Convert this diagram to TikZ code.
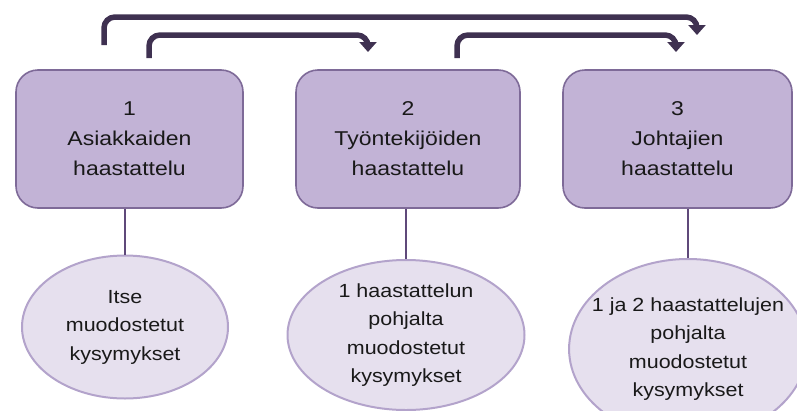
\documentclass[tikz,border=0pt]{standalone}
\usepackage{fontspec}
\setmainfont{Liberation Sans}
\newfontfamily\phasefont[FakeStretch=1.15]{Liberation Sans}
\newfontfamily\questfont[FakeStretch=1.13]{Liberation Sans}
\usetikzlibrary{arrows.meta,shapes.geometric}
\definecolor{boxfill}{HTML}{C2B3D6}
\definecolor{boxline}{HTML}{7E6A98}
\definecolor{ellfill}{HTML}{E6E0EE}
\definecolor{ellline}{HTML}{B3A3CB}
\definecolor{stem}{HTML}{5F497A}
\definecolor{flow}{HTML}{3F3151}
\begin{document}
\begin{tikzpicture}[x=1pt, y=-1pt,
		phase/.style={draw=boxline, line width=1.6pt, fill=boxfill, rounded corners=22pt, minimum height=138pt, inner sep=0pt, align=center, font=\phasefont\fontsize{20}{30}\selectfont, text=black!90},
		questions/.style={ellipse, draw=ellline, line width=2pt, fill=ellfill, inner xsep=0pt, inner ysep=-6pt, align=center, font=\questfont\fontsize{19}{28.5}\selectfont, text=black!90},
		flowarrow/.style={draw=flow, line width=5.5pt, rounded corners=11pt, -{Triangle[width=17pt,length=10pt]}}]
			\useasboundingbox (0,0) rectangle (797,410);
			\node[phase, minimum width=227pt] (int1) at (129.5,139) {1\\Asiakkaiden\\haastattelu};
			\node[phase, minimum width=224pt] (int2) at (408,139) {2\\Työntekijöiden\\haastattelu};
			\node[phase, minimum width=229pt] (int3) at (677.5,139) {3\\Johtajien\\haastattelu};
			\node[questions, minimum width=206pt, minimum height=143pt] (q1) at (125,327) {Itse\\muodostetut\\kysymykset};
			\node[questions, minimum width=237pt, minimum height=150pt] (q2) at (406,335) {1 haastattelun\\pohjalta\\muodostetut\\kysymykset};
			\node[questions, inner xsep=-12pt, minimum width=236pt, minimum height=180pt] (q3) at (688,349) {1 ja 2 haastattelujen\\pohjalta\\muodostetut\\kysymykset};
			\foreach \i in {1,2,3} { \draw[stem, line width=1.6pt] (q\i.north |- int\i.south) -- (q\i.north); }
			\coordinate (s1) at (104,45);
			\coordinate (s2) at (149,58);
			\coordinate (s3) at (457,58);
			\draw[flowarrow] (s1) -- (104,17) -- (697,17) -- (697,35);
			\draw[flowarrow] (s2) -- (149,35) -- (368,35) -- (368,52);
			\draw[flowarrow] (s3) -- (457,35) -- (676,35) -- (676,52);
		\end{tikzpicture}
\end{document}
